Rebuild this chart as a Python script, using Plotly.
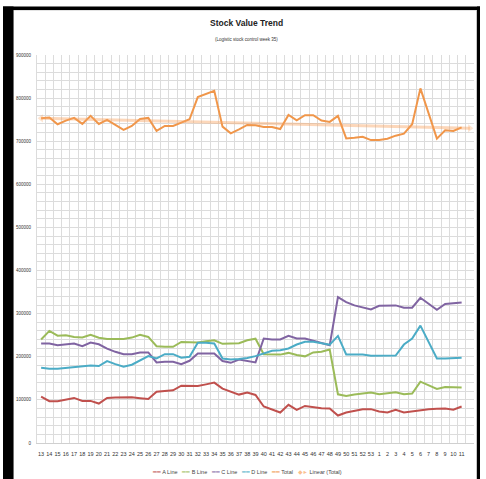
import numpy as np
import plotly.graph_objects as go

weeks = [str(w) for w in range(13, 54)] + [str(w) for w in range(1, 12)]

a_line = [107700, 97000, 97000, 100000, 104600, 97700, 97700, 91500, 104600, 105400,
          105400, 106000, 104000, 102300, 119000, 121500, 122300, 133000, 132300, 132300,
          136000, 140000, 126000, 119000, 112300, 117000, 111500, 84600, 78500, 70800,
          88500, 77000, 86000, 83000, 80800, 80000, 63800, 70800, 74600, 78500,
          78500, 73100, 70800, 77000, 70800, 73900, 77000, 78500, 79200, 80000,
          77000, 84600]
b_line = [240000, 260000, 249000, 250000, 246000, 245000, 251000, 244000, 241000, 241000,
          241500, 244500, 251000, 246000, 224500, 223000, 223000, 234500, 233000, 233000,
          236000, 238400, 230000, 230000, 231500, 238400, 242000, 206000, 206000, 205000,
          209000, 204000, 201000, 210000, 211500, 217000, 113000, 109200, 112300, 115400,
          117000, 113000, 116100, 117700, 113000, 114600, 142300, 134600, 125400, 130000,
          128500, 128500]
c_line = [230700, 230700, 227000, 229000, 230700, 224600, 233000, 229000, 219000, 211500,
          206000, 206000, 210000, 210000, 187000, 188500, 188500, 183000, 190700, 207700,
          207700, 207700, 190000, 186000, 193800, 190700, 187000, 242300, 240000, 240000,
          248400, 242300, 242300, 237000, 232300, 227000, 338400, 326900, 319200, 313800,
          310000, 318400, 319200, 319200, 313800, 313800, 336900, 323000, 309200, 322300,
          323800, 326000]
d_line = [174600, 172300, 172300, 174000, 177000, 177700, 180000, 178500, 190000, 183000,
          177000, 181500, 190700, 201500, 196000, 206000, 206000, 197700, 200000, 232300,
          232300, 230700, 196000, 193800, 194600, 197000, 201500, 207700, 213800, 215300,
          219200, 228400, 234600, 234600, 230700, 228000, 248400, 205400, 205400, 205400,
          202300, 203000, 203000, 203000, 228400, 242300, 272300, 234600, 196000, 196000,
          196000, 197700]
total = [753300, 754900, 739300, 747900, 754100, 740100, 758800, 740100, 749400, 737800,
         726100, 735400, 751800, 754100, 723800, 735400, 735400, 743200, 751000, 802300,
         809300, 817100, 733900, 718300, 727600, 737800, 737000, 733100, 733100, 728400,
         761100, 748700, 760300, 760300, 747900, 744800, 758800, 706600, 708200, 710500,
         702700, 702700, 705900, 712900, 717500, 739300, 822600, 765000, 705900, 725300,
         723800, 732300]

series_names = ["A Line", "B Line", "C Line", "D Line", "Total"]
series_values = [a_line, b_line, c_line, d_line, total]
series_colors = ["#C0504D", "#9BBB59", "#8064A2", "#4BACC6", "#F0964A"]
trend_color = "rgba(247,160,90,0.42)"
trend_name = "Linear (Total)"
forecast_periods = 1

FONT = "Liberation Sans Narrow, Arial Narrow, Liberation Sans, Arial, sans-serif"

W, H = 486, 479
ML, MR, MT, MB = 37, 12, 55, 36
PW, PH = W - ML - MR, H - MT - MB

def px_x(px):
    return (px - ML) / PW

def px_y(py):
    return (H - MB - py) / PH

idx = np.arange(len(weeks))
fig = go.Figure()

for name, vals, col in zip(series_names, series_values, series_colors):
    fig.add_trace(go.Scatter(x=idx, y=vals, mode="lines", name=name,
                             line=dict(color=col, width=2), showlegend=False))

# Linear trendline of Total, forecast forward one period
slope, intercept = np.polyfit(idx, np.array(total, dtype=float), 1)
tx = np.arange(len(weeks) + forecast_periods)
ty = slope * tx + intercept
sizes = [0] * len(tx)
sizes[0] = 7
sizes[-1] = 7
symbols = ["circle"] * len(tx)
symbols[0] = "triangle-left"
symbols[-1] = "triangle-right"
fig.add_trace(go.Scatter(x=tx, y=ty, mode="lines+markers", name=trend_name,
                         line=dict(color=trend_color, width=3),
                         marker=dict(size=sizes, symbol=symbols, color=trend_color, line=dict(width=0)),
                         showlegend=False))

# Legend built as text
parts = []
for name, col in zip(series_names, series_colors):
    parts.append(f"<span style='color:{col}'>━━</span> {name}")
parts.append(f"<span style='color:rgba(247,150,70,0.6)'>◆►</span> {trend_name}")
legend_text = "   ".join(parts)

shapes = [
    dict(type="rect", xref="paper", yref="paper", x0=px_x(13), x1=px_x(476.5), y0=px_y(490), y1=px_y(10),
         line=dict(color="#c8c8c8", width=1), fillcolor="rgba(0,0,0,0)", layer="below"),
    dict(type="rect", xref="paper", yref="paper", x0=px_x(3), x1=px_x(13.5), y0=px_y(490), y1=px_y(6.5),
         line=dict(width=0), fillcolor="black"),
    dict(type="rect", xref="paper", yref="paper", x0=px_x(3), x1=px_x(480), y0=px_y(10), y1=px_y(6.5),
         line=dict(width=0), fillcolor="black"),
    dict(type="rect", xref="paper", yref="paper", x0=px_x(477), x1=px_x(480), y0=px_y(490), y1=px_y(6.5),
         line=dict(width=0), fillcolor="black"),
]

annotations = [
    dict(text="<b>Stock Value Trend</b>", xref="paper", yref="paper", x=px_x(246), y=px_y(23),
         showarrow=False, xanchor="center", yanchor="middle",
         font=dict(family=FONT, size=8.5, color="#222222")),
    dict(text="(Logistic stock control week 35)", xref="paper", yref="paper", x=px_x(246), y=px_y(40),
         showarrow=False, xanchor="center", yanchor="middle",
         font=dict(family=FONT, size=4.5, color="#333333")),
    dict(text=legend_text, xref="paper", yref="paper", x=px_x(247), y=px_y(471.5),
         showarrow=False, xanchor="center", yanchor="middle",
         font=dict(family=FONT, size=5.5, color="#444444")),
]

fig.update_layout(
    width=W, height=H,
    margin=dict(l=ML, r=MR, t=MT, b=MB, pad=0),
    paper_bgcolor="white", plot_bgcolor="white",
    showlegend=False,
    shapes=shapes,
    annotations=annotations,
    xaxis=dict(
        range=[-0.5, len(weeks) + forecast_periods - 0.5],
        tickmode="array", tickvals=list(idx), ticktext=weeks,
        showgrid=False, zeroline=False,
        showline=True, linecolor="#d0d0d0", linewidth=1,
        ticks="", ticklabelstandoff=5,
        tickfont=dict(family=FONT, size=5.5, color="#333333"),
        minor=dict(tickmode="linear", tick0=-0.5, dtick=1, showgrid=True,
                   gridcolor="#dcdcdc", gridwidth=1, ticks=""),
    ),
    yaxis=dict(
        range=[0, 900000], tickmode="linear", tick0=0, dtick=100000,
        tickformat="d",
        showgrid=True, gridcolor="#dcdcdc", gridwidth=1,
        zeroline=False, showline=True, linecolor="#dcdcdc", linewidth=1,
        ticks="", ticklabelstandoff=4,
        tickfont=dict(family=FONT, size=4.5, color="#333333"),
        minor=dict(dtick=20000, showgrid=True, gridcolor="#dcdcdc", gridwidth=1, ticks=""),
    ),
)

fig.write_html("out.html")
